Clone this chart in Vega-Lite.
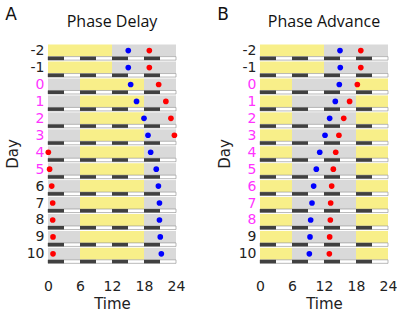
{
  "$schema": "https://vega.github.io/schema/vega-lite/v6.json",
  "padding": {"left": 5, "top": 6, "right": 0, "bottom": 0},
  "background": "white",
  "datasets": {
    "bandsA": [
      {"Day": -2, "s": 0, "e": 12, "c": "L"}, {"Day": -2, "s": 12, "e": 24, "c": "D"},
      {"Day": -1, "s": 0, "e": 12, "c": "L"}, {"Day": -1, "s": 12, "e": 24, "c": "D"},
      {"Day": 0, "s": 0, "e": 6, "c": "D"}, {"Day": 0, "s": 6, "e": 18, "c": "L"}, {"Day": 0, "s": 18, "e": 24, "c": "D"},
      {"Day": 1, "s": 0, "e": 6, "c": "D"}, {"Day": 1, "s": 6, "e": 18, "c": "L"}, {"Day": 1, "s": 18, "e": 24, "c": "D"},
      {"Day": 2, "s": 0, "e": 6, "c": "D"}, {"Day": 2, "s": 6, "e": 18, "c": "L"}, {"Day": 2, "s": 18, "e": 24, "c": "D"},
      {"Day": 3, "s": 0, "e": 6, "c": "D"}, {"Day": 3, "s": 6, "e": 18, "c": "L"}, {"Day": 3, "s": 18, "e": 24, "c": "D"},
      {"Day": 4, "s": 0, "e": 6, "c": "D"}, {"Day": 4, "s": 6, "e": 18, "c": "L"}, {"Day": 4, "s": 18, "e": 24, "c": "D"},
      {"Day": 5, "s": 0, "e": 6, "c": "D"}, {"Day": 5, "s": 6, "e": 18, "c": "L"}, {"Day": 5, "s": 18, "e": 24, "c": "D"},
      {"Day": 6, "s": 0, "e": 6, "c": "D"}, {"Day": 6, "s": 6, "e": 18, "c": "L"}, {"Day": 6, "s": 18, "e": 24, "c": "D"},
      {"Day": 7, "s": 0, "e": 6, "c": "D"}, {"Day": 7, "s": 6, "e": 18, "c": "L"}, {"Day": 7, "s": 18, "e": 24, "c": "D"},
      {"Day": 8, "s": 0, "e": 6, "c": "D"}, {"Day": 8, "s": 6, "e": 18, "c": "L"}, {"Day": 8, "s": 18, "e": 24, "c": "D"},
      {"Day": 9, "s": 0, "e": 6, "c": "D"}, {"Day": 9, "s": 6, "e": 18, "c": "L"}, {"Day": 9, "s": 18, "e": 24, "c": "D"},
      {"Day": 10, "s": 0, "e": 6, "c": "D"}, {"Day": 10, "s": 6, "e": 18, "c": "L"}, {"Day": 10, "s": 18, "e": 24, "c": "D"}
    ],
    "bandsB": [
      {"Day": -2, "s": 0, "e": 12, "c": "L"}, {"Day": -2, "s": 12, "e": 24, "c": "D"},
      {"Day": -1, "s": 0, "e": 12, "c": "L"}, {"Day": -1, "s": 12, "e": 24, "c": "D"},
      {"Day": 0, "s": 0, "e": 6, "c": "L"}, {"Day": 0, "s": 6, "e": 18, "c": "D"}, {"Day": 0, "s": 18, "e": 24, "c": "L"},
      {"Day": 1, "s": 0, "e": 6, "c": "L"}, {"Day": 1, "s": 6, "e": 18, "c": "D"}, {"Day": 1, "s": 18, "e": 24, "c": "L"},
      {"Day": 2, "s": 0, "e": 6, "c": "L"}, {"Day": 2, "s": 6, "e": 18, "c": "D"}, {"Day": 2, "s": 18, "e": 24, "c": "L"},
      {"Day": 3, "s": 0, "e": 6, "c": "L"}, {"Day": 3, "s": 6, "e": 18, "c": "D"}, {"Day": 3, "s": 18, "e": 24, "c": "L"},
      {"Day": 4, "s": 0, "e": 6, "c": "L"}, {"Day": 4, "s": 6, "e": 18, "c": "D"}, {"Day": 4, "s": 18, "e": 24, "c": "L"},
      {"Day": 5, "s": 0, "e": 6, "c": "L"}, {"Day": 5, "s": 6, "e": 18, "c": "D"}, {"Day": 5, "s": 18, "e": 24, "c": "L"},
      {"Day": 6, "s": 0, "e": 6, "c": "L"}, {"Day": 6, "s": 6, "e": 18, "c": "D"}, {"Day": 6, "s": 18, "e": 24, "c": "L"},
      {"Day": 7, "s": 0, "e": 6, "c": "L"}, {"Day": 7, "s": 6, "e": 18, "c": "D"}, {"Day": 7, "s": 18, "e": 24, "c": "L"},
      {"Day": 8, "s": 0, "e": 6, "c": "L"}, {"Day": 8, "s": 6, "e": 18, "c": "D"}, {"Day": 8, "s": 18, "e": 24, "c": "L"},
      {"Day": 9, "s": 0, "e": 6, "c": "L"}, {"Day": 9, "s": 6, "e": 18, "c": "D"}, {"Day": 9, "s": 18, "e": 24, "c": "L"},
      {"Day": 10, "s": 0, "e": 6, "c": "L"}, {"Day": 10, "s": 6, "e": 18, "c": "D"}, {"Day": 10, "s": 18, "e": 24, "c": "L"}
    ],
    "days": [
      {"Day": -2}, {"Day": -1}, {"Day": 0}, {"Day": 1}, {"Day": 2}, {"Day": 3}, {"Day": 4},
      {"Day": 5}, {"Day": 6}, {"Day": 7}, {"Day": 8}, {"Day": 9}, {"Day": 10}
    ],
    "dark": [
      {"Day": -2, "s": 0, "e": 3}, {"Day": -2, "s": 6, "e": 9}, {"Day": -2, "s": 12, "e": 15}, {"Day": -2, "s": 18, "e": 21},
      {"Day": -1, "s": 0, "e": 3}, {"Day": -1, "s": 6, "e": 9}, {"Day": -1, "s": 12, "e": 15}, {"Day": -1, "s": 18, "e": 21},
      {"Day": 0, "s": 0, "e": 3}, {"Day": 0, "s": 6, "e": 9}, {"Day": 0, "s": 12, "e": 15}, {"Day": 0, "s": 18, "e": 21},
      {"Day": 1, "s": 0, "e": 3}, {"Day": 1, "s": 6, "e": 9}, {"Day": 1, "s": 12, "e": 15}, {"Day": 1, "s": 18, "e": 21},
      {"Day": 2, "s": 0, "e": 3}, {"Day": 2, "s": 6, "e": 9}, {"Day": 2, "s": 12, "e": 15}, {"Day": 2, "s": 18, "e": 21},
      {"Day": 3, "s": 0, "e": 3}, {"Day": 3, "s": 6, "e": 9}, {"Day": 3, "s": 12, "e": 15}, {"Day": 3, "s": 18, "e": 21},
      {"Day": 4, "s": 0, "e": 3}, {"Day": 4, "s": 6, "e": 9}, {"Day": 4, "s": 12, "e": 15}, {"Day": 4, "s": 18, "e": 21},
      {"Day": 5, "s": 0, "e": 3}, {"Day": 5, "s": 6, "e": 9}, {"Day": 5, "s": 12, "e": 15}, {"Day": 5, "s": 18, "e": 21},
      {"Day": 6, "s": 0, "e": 3}, {"Day": 6, "s": 6, "e": 9}, {"Day": 6, "s": 12, "e": 15}, {"Day": 6, "s": 18, "e": 21},
      {"Day": 7, "s": 0, "e": 3}, {"Day": 7, "s": 6, "e": 9}, {"Day": 7, "s": 12, "e": 15}, {"Day": 7, "s": 18, "e": 21},
      {"Day": 8, "s": 0, "e": 3}, {"Day": 8, "s": 6, "e": 9}, {"Day": 8, "s": 12, "e": 15}, {"Day": 8, "s": 18, "e": 21},
      {"Day": 9, "s": 0, "e": 3}, {"Day": 9, "s": 6, "e": 9}, {"Day": 9, "s": 12, "e": 15}, {"Day": 9, "s": 18, "e": 21},
      {"Day": 10, "s": 0, "e": 3}, {"Day": 10, "s": 6, "e": 9}, {"Day": 10, "s": 12, "e": 15}, {"Day": 10, "s": 18, "e": 21}
    ],
    "dotsA": [
      {"Day": -2, "t": 15.05, "k": "blue"}, {"Day": -2, "t": 19.0, "k": "red"},
      {"Day": -1, "t": 15.05, "k": "blue"}, {"Day": -1, "t": 19.0, "k": "red"},
      {"Day": 0, "t": 15.5, "k": "blue"}, {"Day": 0, "t": 20.75, "k": "red"},
      {"Day": 1, "t": 16.6, "k": "blue"}, {"Day": 1, "t": 22.1, "k": "red"},
      {"Day": 2, "t": 18.0, "k": "blue"}, {"Day": 2, "t": 23.05, "k": "red"},
      {"Day": 3, "t": 18.75, "k": "blue"}, {"Day": 3, "t": 23.7, "k": "red"},
      {"Day": 4, "t": 19.25, "k": "blue"}, {"Day": 4, "t": 0.06, "k": "red"},
      {"Day": 5, "t": 20.3, "k": "blue"}, {"Day": 5, "t": 0.3, "k": "red"},
      {"Day": 6, "t": 20.7, "k": "blue"}, {"Day": 6, "t": 0.7, "k": "red"},
      {"Day": 7, "t": 20.9, "k": "blue"}, {"Day": 7, "t": 0.88, "k": "red"},
      {"Day": 8, "t": 20.9, "k": "blue"}, {"Day": 8, "t": 0.88, "k": "red"},
      {"Day": 9, "t": 21.05, "k": "blue"}, {"Day": 9, "t": 0.94, "k": "red"},
      {"Day": 10, "t": 21.25, "k": "blue"}, {"Day": 10, "t": 0.94, "k": "red"}
    ],
    "dotsB": [
      {"Day": -2, "t": 15.0, "k": "blue"}, {"Day": -2, "t": 18.9, "k": "red"},
      {"Day": -1, "t": 15.05, "k": "blue"}, {"Day": -1, "t": 18.9, "k": "red"},
      {"Day": 0, "t": 14.87, "k": "blue"}, {"Day": 0, "t": 18.25, "k": "red"},
      {"Day": 1, "t": 14.12, "k": "blue"}, {"Day": 1, "t": 16.8, "k": "red"},
      {"Day": 2, "t": 13.06, "k": "blue"}, {"Day": 2, "t": 15.7, "k": "red"},
      {"Day": 3, "t": 12.19, "k": "blue"}, {"Day": 3, "t": 14.8, "k": "red"},
      {"Day": 4, "t": 11.2, "k": "blue"}, {"Day": 4, "t": 14.2, "k": "red"},
      {"Day": 5, "t": 10.56, "k": "blue"}, {"Day": 5, "t": 13.75, "k": "red"},
      {"Day": 6, "t": 10.06, "k": "blue"}, {"Day": 6, "t": 13.44, "k": "red"},
      {"Day": 7, "t": 9.75, "k": "blue"}, {"Day": 7, "t": 13.25, "k": "red"},
      {"Day": 8, "t": 9.5, "k": "blue"}, {"Day": 8, "t": 13.19, "k": "red"},
      {"Day": 9, "t": 9.375, "k": "blue"}, {"Day": 9, "t": 13.06, "k": "red"},
      {"Day": 10, "t": 9.25, "k": "blue"}, {"Day": 10, "t": 13.0, "k": "red"}
    ]
  },
  "spacing": 32,
  "hconcat": [
    {
      "title": {"text": "A", "anchor": "start", "font": "DejaVu Sans", "fontSize": 17, "fontWeight": "normal", "offset": -10, "color": "#111"},
      "vconcat": [
        {
          "title": {"text": "Phase Delay", "font": "Open Sans", "fontSize": 16, "fontWeight": "normal", "offset": 8, "color": "#111"},
          "width": 128,
          "height": 231,
          "encoding": {
            "y": {"field": "Day", "type": "quantitative", "title": "Day",
              "scale": {"domain": [-2.45, 10.6], "reverse": true, "nice": false, "zero": false},
              "axis": {"values": [-2, -1, 0, 1, 2, 3, 4, 5, 6, 7, 8, 9, 10], "labelExpr": "'' + datum.value",
                "labelColor": {"expr": "datum.value >= 0 && datum.value <= 5 ? '#ff33ff' : '#222222'"},
                "labelPadding": 4, "titlePadding": 6}}
          },
          "layer": [
            {"data": {"name": "bandsA"}, "mark": {"type": "bar", "height": 12, "orient": "horizontal"},
              "encoding": {
                "x": {"field": "s", "type": "quantitative", "title": "Time", "scale": {"domain": [0, 24], "nice": false}, "axis": {"values": [0, 6, 12, 18, 24]}},
                "x2": {"field": "e"},
                "color": {"field": "c", "type": "nominal", "scale": {"domain": ["L", "D"], "range": ["#f8ef89", "#d9d9d9"]}, "legend": null}
              }},
            {"data": {"name": "days"}, "mark": {"type": "bar", "height": 3.5, "yOffset": 7.75, "orient": "horizontal", "fill": "#ffffff", "stroke": "#8c8c8c", "strokeWidth": 0.6},
              "encoding": {
                "x": {"datum": 0, "type": "quantitative", "title": "Time", "axis": {"values": [0, 6, 12, 18, 24]}},
                "x2": {"datum": 24}
              }},
            {"data": {"name": "dark"}, "mark": {"type": "bar", "height": 3.5, "yOffset": 7.75, "orient": "horizontal", "fill": "#404040"},
              "encoding": {
                "x": {"field": "s", "type": "quantitative", "title": "Time", "axis": {"values": [0, 6, 12, 18, 24]}},
                "x2": {"field": "e"}
              }},
            {"data": {"name": "dotsA"}, "mark": {"type": "circle", "size": 32, "opacity": 1},
              "encoding": {
                "x": {"field": "t", "type": "quantitative", "title": "Time", "axis": {"values": [0, 6, 12, 18, 24]}},
                "color": {"field": "k", "type": "nominal", "scale": {"domain": ["blue", "red"], "range": ["#0000ff", "#ff0000"]}, "legend": null}
              }}
          ],
          "resolve": {"scale": {"color": "independent"}}
        }
      ]
    },
    {
      "title": {"text": "B", "anchor": "start", "font": "DejaVu Sans", "fontSize": 17, "fontWeight": "normal", "offset": -10, "color": "#111"},
      "vconcat": [
        {
          "title": {"text": "Phase Advance", "font": "Open Sans", "fontSize": 16, "fontWeight": "normal", "offset": 8, "color": "#111"},
          "width": 128,
          "height": 231,
          "encoding": {
            "y": {"field": "Day", "type": "quantitative", "title": "Day",
              "scale": {"domain": [-2.45, 10.6], "reverse": true, "nice": false, "zero": false},
              "axis": {"values": [-2, -1, 0, 1, 2, 3, 4, 5, 6, 7, 8, 9, 10], "labelExpr": "'' + datum.value",
                "labelColor": {"expr": "datum.value >= 0 && datum.value <= 8 ? '#ff33ff' : '#222222'"},
                "labelPadding": 4, "titlePadding": 6}}
          },
          "layer": [
            {"data": {"name": "bandsB"}, "mark": {"type": "bar", "height": 12, "orient": "horizontal"},
              "encoding": {
                "x": {"field": "s", "type": "quantitative", "title": "Time", "scale": {"domain": [0, 24], "nice": false}, "axis": {"values": [0, 6, 12, 18, 24]}},
                "x2": {"field": "e"},
                "color": {"field": "c", "type": "nominal", "scale": {"domain": ["L", "D"], "range": ["#f8ef89", "#d9d9d9"]}, "legend": null}
              }},
            {"data": {"name": "days"}, "mark": {"type": "bar", "height": 3.5, "yOffset": 7.75, "orient": "horizontal", "fill": "#ffffff", "stroke": "#8c8c8c", "strokeWidth": 0.6},
              "encoding": {
                "x": {"datum": 0, "type": "quantitative", "title": "Time", "axis": {"values": [0, 6, 12, 18, 24]}},
                "x2": {"datum": 24}
              }},
            {"data": {"name": "dark"}, "mark": {"type": "bar", "height": 3.5, "yOffset": 7.75, "orient": "horizontal", "fill": "#404040"},
              "encoding": {
                "x": {"field": "s", "type": "quantitative", "title": "Time", "axis": {"values": [0, 6, 12, 18, 24]}},
                "x2": {"field": "e"}
              }},
            {"data": {"name": "dotsB"}, "mark": {"type": "circle", "size": 32, "opacity": 1},
              "encoding": {
                "x": {"field": "t", "type": "quantitative", "title": "Time", "axis": {"values": [0, 6, 12, 18, 24]}},
                "color": {"field": "k", "type": "nominal", "scale": {"domain": ["blue", "red"], "range": ["#0000ff", "#ff0000"]}, "legend": null}
              }}
          ],
          "resolve": {"scale": {"color": "independent"}}
        }
      ]
    }
  ],
  "config": {
    "view": {"stroke": null},
    "axis": {"grid": false, "ticks": false, "domain": false, "labelFont": "DejaVu Sans", "labelFontSize": 14,
      "titleFont": "DejaVu Sans", "titleFontSize": 15, "titleFontWeight": "normal", "labelColor": "#222222", "titleColor": "#222222"},
    "axisX": {"labelPadding": 10, "titlePadding": 3, "labelFlush": false},
    "axisY": {"labelFlush": false}
  }
}
